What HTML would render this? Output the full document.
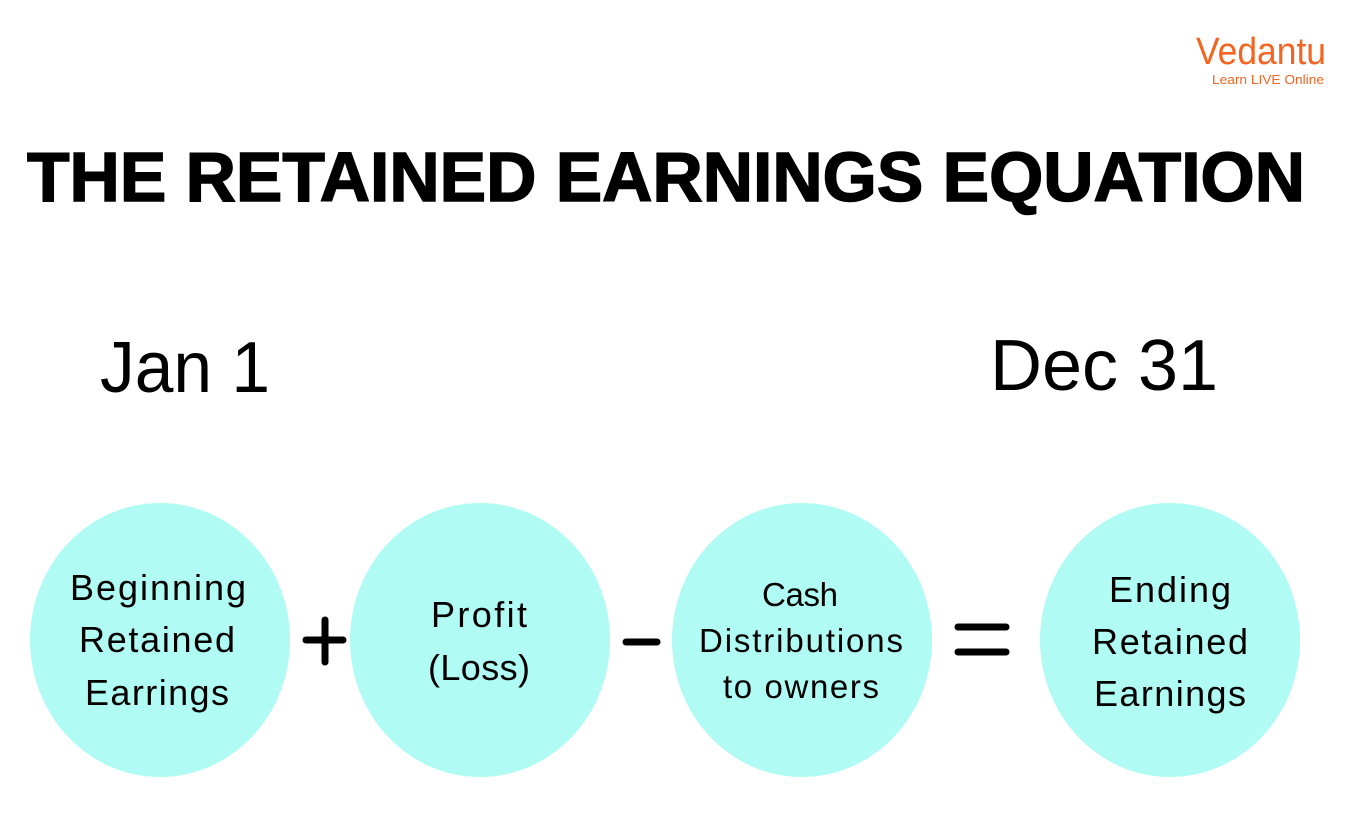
<!DOCTYPE html>
<html><head><meta charset="utf-8"><style>
html,body{margin:0;padding:0;background:#fff}
svg{display:block}
</style></head><body>
<svg width="1352" height="836" viewBox="0 0 1352 836" xmlns="http://www.w3.org/2000/svg" font-family="Liberation Sans, sans-serif">
<rect width="1352" height="836" fill="#fff"/>
<text x="1196" y="64" font-size="38" fill="#f26522" textLength="130" lengthAdjust="spacingAndGlyphs">Vedantu</text>
<text x="1212" y="84" font-size="13" fill="#f26522" textLength="112" lengthAdjust="spacingAndGlyphs">Learn LIVE Online</text>
<text x="27" y="201" font-size="70" font-weight="bold" fill="#000" stroke="#000" stroke-width="1.5" textLength="1278" lengthAdjust="spacingAndGlyphs">THE RETAINED EARNINGS EQUATION</text>
<text x="100" y="392" font-size="72" fill="#000" textLength="170" lengthAdjust="spacingAndGlyphs">Jan 1</text>
<text x="990" y="390" font-size="72" fill="#000" textLength="228" lengthAdjust="spacingAndGlyphs">Dec 31</text>
<g fill="#b0fbf3">
<ellipse cx="160" cy="640" rx="130" ry="137"/>
<ellipse cx="480" cy="640" rx="130" ry="137"/>
<ellipse cx="802" cy="640" rx="130" ry="137"/>
<ellipse cx="1170" cy="640" rx="130" ry="137"/>
</g>
<g font-size="36" fill="#000" text-anchor="middle" lengthAdjust="spacingAndGlyphs">
<text x="158" y="600" textLength="176">Beginning</text>
<text x="157" y="652" textLength="156">Retained</text>
<text x="157" y="705" textLength="144">Earrings</text>
<text x="479" y="627" textLength="96">Profit</text>
<text x="479" y="680" textLength="102">(Loss)</text>
<text x="800" y="606" font-size="33" textLength="76">Cash</text>
<text x="801" y="652" font-size="33" textLength="204">Distributions</text>
<text x="801" y="698" font-size="33" textLength="156">to owners</text>
<text x="1170" y="602" textLength="122">Ending</text>
<text x="1170" y="654" textLength="156">Retained</text>
<text x="1170" y="706" textLength="152">Earnings</text>
</g>
<g stroke="#000" stroke-width="7" stroke-linecap="round">
<line x1="306" y1="640" x2="343" y2="640"/>
<line x1="325" y1="620" x2="325" y2="662"/>
<line x1="626" y1="642" x2="657" y2="642"/>
<line x1="958" y1="627" x2="1006" y2="627"/>
<line x1="958" y1="652" x2="1006" y2="652"/>
</g>
</svg>
</body></html>
